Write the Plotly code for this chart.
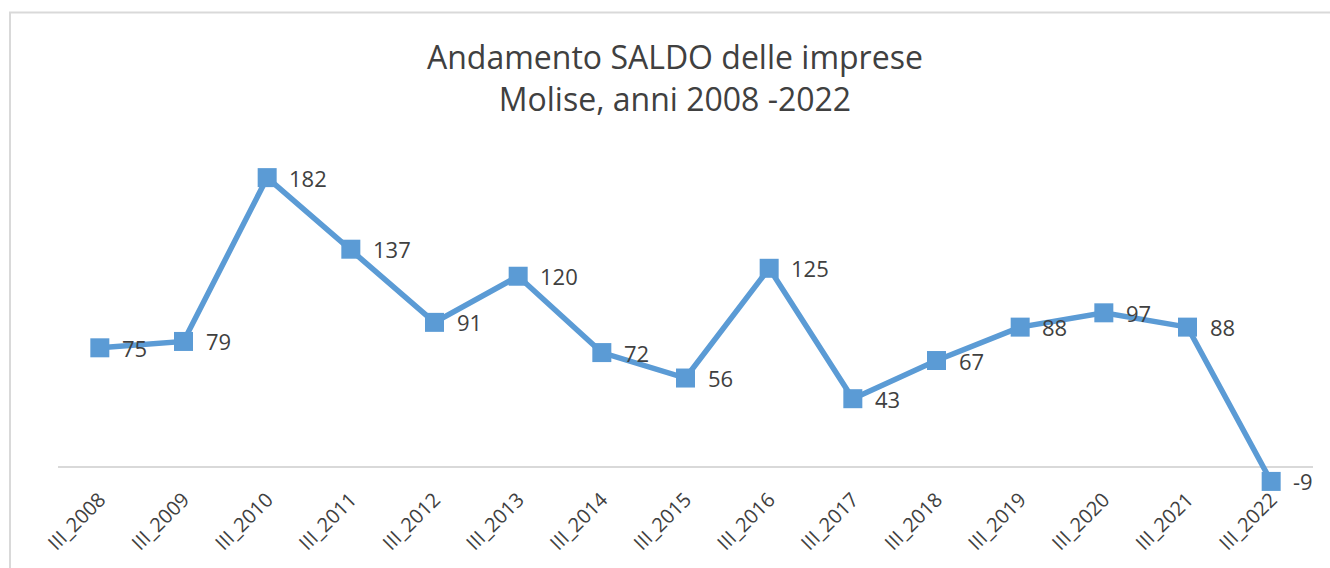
import plotly.graph_objects as go

categories = ["III_2008", "III_2009", "III_2010", "III_2011", "III_2012", "III_2013",
              "III_2014", "III_2015", "III_2016", "III_2017", "III_2018", "III_2019",
              "III_2020", "III_2021", "III_2022"]
saldo = [75, 79, 182, 137, 91, 120, 72, 56, 125, 43, 67, 88, 97, 88, -9]

W, H = 1330, 568
ML, MR = 58, 17
Y_MIN, Y_MAX = -10, 200
PX_PER_UNIT = 1.588
ZERO_PX = 467
top_px = ZERO_PX - Y_MAX * PX_PER_UNIT
bot_px = ZERO_PX - Y_MIN * PX_PER_UNIT
MT, MB = top_px, H - bot_px
pw = W - ML - MR
ph = bot_px - top_px

def px2x(px):
    return (px - ML) / pw

def py2y(py):
    return (bot_px - py) / ph

LINE_COLOR = "#5B9BD5"
TEXT_COLOR = "#404040"
FONT = "Open Sans"

fig = go.Figure()
fig.add_trace(go.Scatter(
    x=list(range(len(categories))), y=saldo, mode="lines+markers",
    line=dict(color=LINE_COLOR, width=5.5),
    marker=dict(symbol="square", size=19, color=LINE_COLOR),
    cliponaxis=False, hoverinfo="skip", showlegend=False,
))

for i, v in enumerate(saldo):
    fig.add_annotation(x=i, y=v, xref="x", yref="y", text=str(v), showarrow=False,
                       xanchor="left", yanchor="middle", xshift=20,
                       font=dict(family=FONT, size=22, color=TEXT_COLOR))

fig.add_annotation(xref="paper", yref="paper", x=px2x(675), y=py2y(78),
                   text="Andamento SALDO delle imprese<br>Molise, anni 2008 -2022",
                   showarrow=False, xanchor="center", yanchor="middle",
                   font=dict(family=FONT, size=32, color=TEXT_COLOR))

fig.add_annotation(xref="paper", yref="paper", x=px2x(12), y=py2y(8),
                   text="<b>Grafico 2</b>", showarrow=False, xanchor="left", yanchor="bottom",
                   font=dict(family="Liberation Sans", size=22, color="#000000"))

fig.add_shape(type="rect", xref="paper", yref="paper",
              x0=px2x(10), x1=px2x(W + 20), y0=py2y(H + 20), y1=py2y(13),
              line=dict(color="#d9d9d9", width=2), fillcolor="rgba(0,0,0,0)", layer="below")

fig.update_layout(
    width=W, height=H,
    margin=dict(l=ML, r=MR, t=MT, b=MB, pad=0),
    paper_bgcolor="white", plot_bgcolor="white",
    xaxis=dict(range=[-0.5, len(categories) - 0.5], tickmode="array",
               tickvals=list(range(len(categories))), ticktext=categories,
               tickangle=-45, showgrid=False, zeroline=False, showline=False,
               ticks="", tickfont=dict(family=FONT, size=20, color=TEXT_COLOR)),
    yaxis=dict(range=[Y_MIN, Y_MAX], showgrid=False, showticklabels=False,
               zeroline=True, zerolinecolor="#d9d9d9", zerolinewidth=2, showline=False),
)

fig.write_html("out.html")
